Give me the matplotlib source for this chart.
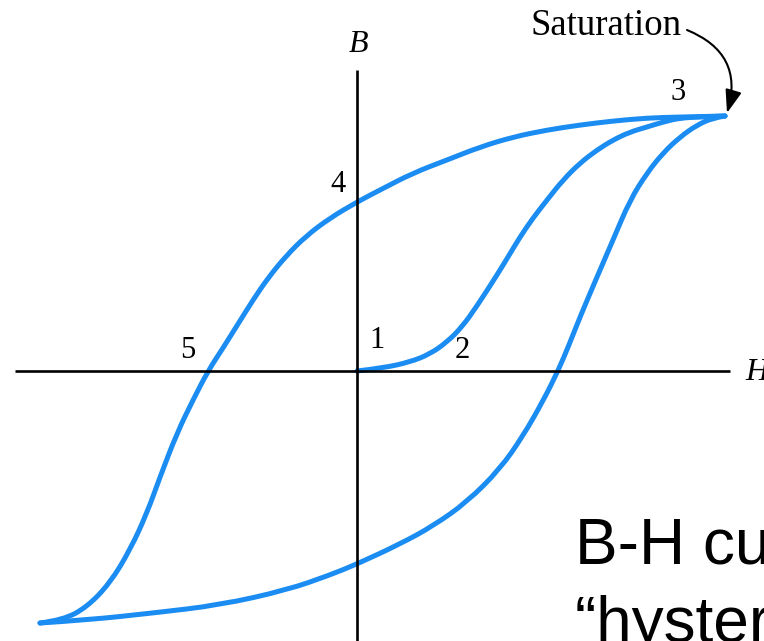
import numpy as np
import matplotlib
matplotlib.use("Agg")
import matplotlib.pyplot as plt
from matplotlib.patches import FancyArrowPatch, PathPatch
from matplotlib.path import Path

# ------------------------------------------------------ #
#                  B-H loop data                         #
# ------------------------------------------------------ #
# Initial magnetisation curve, origin -> saturation (point 3)
h_initial = [0.00, 0.26, 0.53, 0.73, 0.90, 1.05, 1.20, 1.40, 1.51, 1.63,
             1.76, 1.90, 2.06, 2.23, 2.40, 2.56, 2.73, 2.90, 3.06, 3.23, 3.43, 3.68]
b_initial = [0.00, 0.03, 0.09, 0.17, 0.29, 0.44, 0.65, 0.96, 1.14, 1.34,
             1.53, 1.71, 1.91, 2.08, 2.21, 2.31, 2.39, 2.44, 2.49, 2.53, 2.54, 2.55]

# Descending branch, +saturation -> remanence (4) -> coercivity (5) -> -saturation
h_down = [3.68, 3.23, 2.90, 2.56, 2.23, 1.90, 1.56, 1.23, 0.90, 0.56, 0.23, 0.00,
          -0.27, -0.51, -0.71, -0.89, -1.04, -1.19, -1.34, -1.49, -1.64, -1.80,
          -1.97, -2.10, -2.27, -2.47, -2.70, -2.94, -3.17]
b_down = [2.55, 2.54, 2.53, 2.50, 2.46, 2.41, 2.34, 2.24, 2.11, 1.98, 1.81, 1.69,
          1.53, 1.35, 1.15, 0.93, 0.71, 0.47, 0.23, 0.00, -0.29, -0.62,
          -1.06, -1.42, -1.79, -2.12, -2.36, -2.49, -2.52]

# Ascending branch, -saturation -> +saturation
h_up = [-3.17, -2.70, -2.04, -1.37, -0.70, -0.27, 0.00, 0.43, 0.76, 1.10, 1.43, 1.66,
        1.86, 2.01, 2.12, 2.23, 2.40, 2.56, 2.73, 2.90, 3.06, 3.23,
        3.40, 3.56, 3.68]
b_up = [-2.52, -2.49, -2.42, -2.34, -2.19, -2.04, -1.93, -1.73, -1.55, -1.31, -0.98, -0.65,
        -0.30, 0.00, 0.26, 0.54, 0.94, 1.31, 1.71, 1.98, 2.18, 2.34,
        2.46, 2.53, 2.55]

point_labels = ["1", "2", "3", "4", "5"]
point_pos = [(0.20, 0.31), (1.05, 0.21), (3.21, 2.78), (-0.19, 1.86), (-1.69, 0.21)]

caption_lines = ["B-H curve or", "\u201chysteresis loop\u201d"]


def smooth_path(xs, ys):
    # quadratic B-spline: read points are control points, joined at midpoints
    pts = np.column_stack([xs, ys])
    verts = [pts[0]]
    codes = [Path.MOVETO]
    for i in range(1, len(pts) - 1):
        end = pts[-1] if i == len(pts) - 2 else (pts[i] + pts[i + 1]) / 2
        verts += [pts[i], end]
        codes += [Path.CURVE3, Path.CURVE3]
    return Path(verts, codes)


# ------------------------------------------------------ #
#                       Plot                             #
# ------------------------------------------------------ #
fig = plt.figure(figsize=(7.64, 6.41), dpi=100)
ax = fig.add_axes([0, 0, 1, 1])
ax.set_xlim(-3.57, 4.07)
ax.set_ylim(-2.70, 3.71)
ax.axis("off")

blue = "#1a8cf2"
serif = "Liberation Serif"

# axes of the diagram
ax.plot([-3.42, 3.73], [0, 0], color="black", lw=1.9, solid_capstyle="butt")
ax.plot([0, 0], [3.01, -2.75], color="black", lw=1.9, solid_capstyle="butt")

for h, b in [(h_initial, b_initial), (h_down, b_down), (h_up, b_up)]:
    ax.add_patch(PathPatch(smooth_path(h, b), facecolor="none", edgecolor=blue,
                           lw=3.6, joinstyle="round", capstyle="round"))

ax.text(0.01, 3.26, "B", fontsize=23, family=serif, style="italic", ha="center", va="center")
ax.text(3.88, -0.01, "H", fontsize=23, family=serif, style="italic", ha="left", va="center")

for lab, (x, y) in zip(point_labels, point_pos):
    ax.text(x, y, lab, fontsize=22, family=serif, ha="center", va="center")

ax.text(2.49, 3.45, "Saturation", fontsize=26.5, family=serif, ha="center", va="center")
arrow = FancyArrowPatch((3.30, 3.41), (3.70, 2.58), connectionstyle="arc3,rad=-0.45",
                        arrowstyle="-|>,head_length=14,head_width=5", color="black",
                        lw=1.5, mutation_scale=1, shrinkA=0, shrinkB=0)
ax.add_patch(arrow)

ax.text(2.18, -1.92, caption_lines[0], fontsize=46, family="Liberation Sans", va="baseline")
ax.text(2.18, -2.71, caption_lines[1], fontsize=46, family="Liberation Sans", va="baseline")

fig.savefig("out.png", dpi=100)
